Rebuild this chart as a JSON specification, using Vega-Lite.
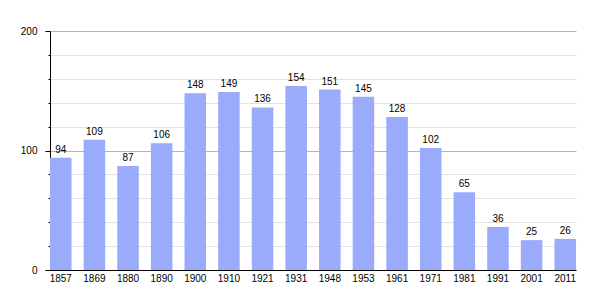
{
  "$schema": "https://vega.github.io/schema/vega-lite/v6.json",
  "autosize": {"type": "none"},
  "width": 526,
  "height": 239,
  "padding": {"left": 50, "top": 31, "right": 29, "bottom": 30},
  "background": "white",
  "config": {
    "view": {"stroke": null},
    "font": "Liberation Sans",
    "axis": {"labelFont": "Liberation Sans", "labelColor": "#000", "labelFontSize": 10}
  },
  "data": {
    "values": [
      {"year": "1857", "pop": 94},
      {"year": "1869", "pop": 109},
      {"year": "1880", "pop": 87},
      {"year": "1890", "pop": 106},
      {"year": "1900", "pop": 148},
      {"year": "1910", "pop": 149},
      {"year": "1921", "pop": 136},
      {"year": "1931", "pop": 154},
      {"year": "1948", "pop": 151},
      {"year": "1953", "pop": 145},
      {"year": "1961", "pop": 128},
      {"year": "1971", "pop": 102},
      {"year": "1981", "pop": 65},
      {"year": "1991", "pop": 36},
      {"year": "2001", "pop": 25},
      {"year": "2011", "pop": 26}
    ]
  },
  "encoding": {
    "x": {
      "field": "year", "type": "ordinal", "sort": null,
      "scale": {"paddingInner": 0.36, "paddingOuter": 0},
      "axis": {"title": null, "labelAngle": 0, "ticks": false, "labelPadding": 3, "domainColor": "#000", "domainWidth": 1, "grid": false}
    },
    "y": {
      "field": "pop", "type": "quantitative",
      "scale": {"domain": [0, 200], "nice": false},
      "axis": {
        "title": null,
        "values": [0, 20, 40, 60, 80, 100, 120, 140, 160, 180, 200],
        "labelExpr": "datum.value % 100 === 0 ? datum.label : ''",
        "grid": true,
        "gridColor": {"condition": {"test": "datum.value % 100 === 0", "value": "#b4b4b4"}, "value": "#e2e2e2"},
        "gridWidth": 1,
        "tickColor": "#000",
        "tickSize": {"condition": {"test": "datum.value % 100 === 0", "value": 5}, "value": 2},
        "labelPadding": 8,
        "domainColor": "#000",
        "domainWidth": 1
      }
    }
  },
  "layer": [
    {"mark": {"type": "bar", "color": "#9aabfb"}},
    {
      "mark": {"type": "text", "baseline": "bottom", "dy": -3, "fontSize": 10, "color": "#000", "font": "Liberation Sans"},
      "encoding": {"text": {"field": "pop", "type": "quantitative"}}
    }
  ]
}
